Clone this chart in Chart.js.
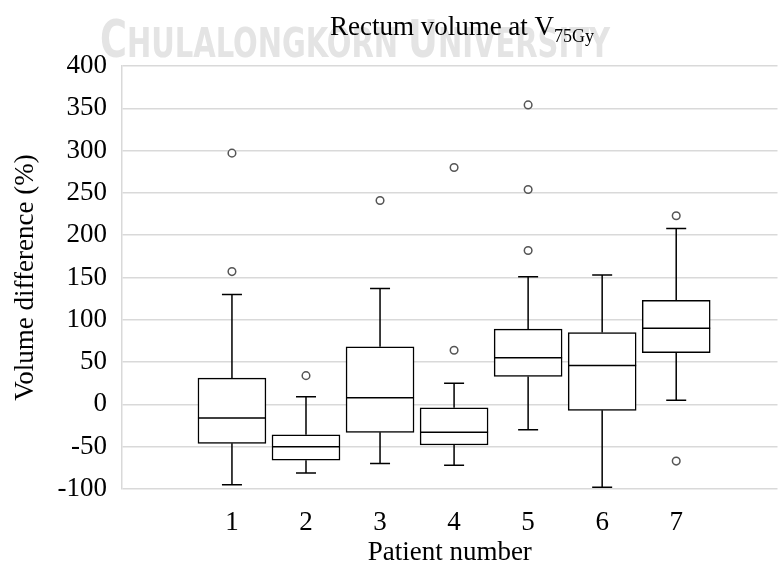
<!DOCTYPE html>
<html lang="en">
<head>
    <meta charset="UTF-8">
    <title>Rectum volume at V75Gy</title>
    <script src="https://cdn.jsdelivr.net/npm/chart.js"></script>
    <style>
        body {
            margin: 0;
            background: #ffffff;
        }
        #boxChart {
            display: block;
        }
    </style>
</head>
<body>
    <canvas id="boxChart" width="783" height="569"></canvas>

    <script>
        // Box plot summary per patient (volume difference, %)
        const patients = [1, 2, 3, 4, 5, 6, 7];
        const whiskerLow = [-95, -81, -70, -72, -30, -98, 5];
        const q1 = [-46, -66, -33, -48, 33, -7, 61];
        const median = [-16, -50, 8, -33, 55, 46, 90];
        const q3 = [31, -36, 68, -4, 89, 85, 123];
        const whiskerHigh = [130, 9, 137, 25, 151, 153, 208];
        const outlierPatient = [1, 1, 2, 3, 4, 4, 5, 5, 5, 7, 7];
        const outlierValue = [297, 157, 34, 241, 280, 64, 354, 254, 182, 223, -67];
        const yTicks = [-100, -50, 0, 50, 100, 150, 200, 250, 300, 350, 400];

        const serif = "'Liberation Serif', 'Times New Roman', serif";
        const gridGray = "#d9d9d9";

        Chart.defaults.font.family = serif;
        Chart.defaults.color = "#000";

        // watermark + title with subscript, drawn on the canvas directly
        const headerPlugin = {
            id: "header",
            beforeDraw(chart) {
                const ctx = chart.ctx;
                ctx.save();
                ctx.fillStyle = "#e4e4e4";
                ctx.textBaseline = "alphabetic";
                const parts = [
                    ["C", 52], ["HULALONGKORN ", 41], ["U", 52], ["NIVERSITY", 41]
                ];
                const narrow = "'Liberation Sans Narrow', 'DejaVu Sans Condensed', sans-serif";
                let total = 0;
                parts.forEach(([t, s]) => {
                    ctx.font = "bold " + s + "px " + narrow;
                    total += ctx.measureText(t).width;
                });
                const sx = 510 / total;
                ctx.translate(100, 57);
                ctx.scale(sx, 1);
                let px = 0;
                parts.forEach(([t, s]) => {
                    ctx.font = "bold " + s + "px " + narrow;
                    ctx.fillText(t, px, 0);
                    px += ctx.measureText(t).width;
                });
                ctx.restore();
            },
            afterDraw(chart) {
                const ctx = chart.ctx;
                ctx.save();
                ctx.fillStyle = "#000";
                ctx.textBaseline = "alphabetic";
                const main = "Rectum volume at V";
                const sub = "75Gy";
                ctx.font = "27px " + serif;
                const wMain = ctx.measureText(main).width;
                ctx.font = "18px " + serif;
                const wSub = ctx.measureText(sub).width;
                const x0 = 462 - (wMain + wSub) / 2;
                ctx.font = "27px " + serif;
                ctx.fillText(main, x0, 35);
                ctx.font = "18px " + serif;
                ctx.fillText(sub, x0 + wMain, 42);
                ctx.restore();
            }
        };

        // whiskers, caps and median lines for each box
        const boxPlotLines = {
            id: "boxPlotLines",
            afterDatasetsDraw(chart) {
                const ctx = chart.ctx;
                const x = chart.scales.x;
                const y = chart.scales.y;
                const boxes = chart.getDatasetMeta(0).data;
                ctx.save();
                ctx.strokeStyle = "#000";
                ctx.lineWidth = 1.5;
                patients.forEach((p, i) => {
                    const cx = x.getPixelForValue(p);
                    const half = boxes[i].width / 2;
                    const cap = 10;
                    ctx.beginPath();
                    // upper whisker
                    ctx.moveTo(cx, y.getPixelForValue(q3[i]));
                    ctx.lineTo(cx, y.getPixelForValue(whiskerHigh[i]));
                    ctx.moveTo(cx - cap, y.getPixelForValue(whiskerHigh[i]));
                    ctx.lineTo(cx + cap, y.getPixelForValue(whiskerHigh[i]));
                    // lower whisker
                    ctx.moveTo(cx, y.getPixelForValue(q1[i]));
                    ctx.lineTo(cx, y.getPixelForValue(whiskerLow[i]));
                    ctx.moveTo(cx - cap, y.getPixelForValue(whiskerLow[i]));
                    ctx.lineTo(cx + cap, y.getPixelForValue(whiskerLow[i]));
                    // median
                    ctx.moveTo(cx - half, y.getPixelForValue(median[i]));
                    ctx.lineTo(cx + half, y.getPixelForValue(median[i]));
                    ctx.stroke();
                });
                ctx.restore();
            }
        };

        new Chart(document.getElementById("boxChart"), {
            type: "bar",
            data: {
                datasets: [{
                    label: "IQR",
                    data: patients.map((p, i) => ({ x: p, y: [q1[i], q3[i]] })),
                    backgroundColor: "#ffffff",
                    borderColor: "#000000",
                    borderWidth: 1.5,
                    borderSkipped: false,
                    barThickness: 68
                }, {
                    type: "scatter",
                    label: "Outliers",
                    data: outlierPatient.map((p, i) => ({ x: p, y: outlierValue[i] })),
                    pointRadius: 3.8,
                    pointBorderWidth: 1.5,
                    pointBorderColor: "#555555",
                    pointBackgroundColor: "#ffffff"
                }]
            },
            options: {
                responsive: false,
                animation: false,
                devicePixelRatio: 1,
                layout: { padding: { top: 66, right: 1, left: 0, bottom: 0 } },
                plugins: {
                    legend: { display: false },
                    tooltip: { enabled: false }
                },
                scales: {
                    x: {
                        type: "linear",
                        offset: false,
                        min: -0.485,
                        max: 8.368,
                        grid: { display: false, offset: false },
                        border: { display: false },
                        afterBuildTicks: s => { s.ticks = patients.map(p => ({ value: p })); },
                        afterFit: s => { s.height = 80; },
                        ticks: {
                            padding: 10,
                            color: "#000",
                            maxRotation: 0,
                            autoSkip: false,
                            font: { family: serif, size: 27 }
                        },
                        title: {
                            display: true,
                            text: "Patient number",
                            color: "#000",
                            font: { family: serif, size: 27 },
                            padding: { top: 0, bottom: 0 }
                        }
                    },
                    y: {
                        min: -100,
                        max: 400,
                        afterBuildTicks: s => { s.ticks = yTicks.map(v => ({ value: v })); },
                        afterFit: s => { s.width = 122; },
                        grid: { color: gridGray, lineWidth: 1.5, drawTicks: false },
                        border: { display: true, color: gridGray, width: 1.5 },
                        ticks: {
                            padding: 15,
                            color: "#000",
                            font: { family: serif, size: 27 }
                        },
                        title: {
                            display: true,
                            text: "Volume difference (%)",
                            color: "#000",
                            font: { family: serif, size: 27 },
                            padding: { top: 10, bottom: 0 }
                        }
                    }
                }
            },
            plugins: [headerPlugin, boxPlotLines]
        });
    </script>
</body>
</html>
